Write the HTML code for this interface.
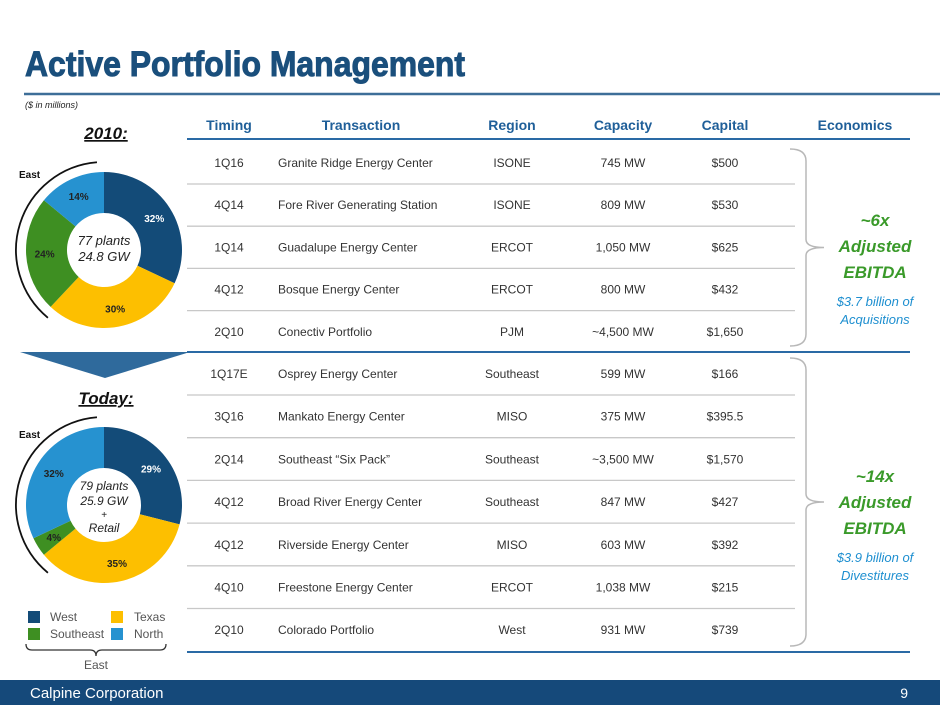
<!DOCTYPE html>
<html><head><meta charset="utf-8"><style>
html,body{margin:0;padding:0;background:#fff;}
svg{display:block;font-family:"Liberation Sans",sans-serif;}
</style></head><body>
<svg id="s" width="940" height="705" viewBox="0 0 940 705">
<text x="25" y="76" font-size="35" font-weight="bold" fill="#1a4f7c" stroke="#1a4f7c" stroke-width="1" textLength="440" lengthAdjust="spacingAndGlyphs">Active Portfolio Management</text>
<line x1="24" y1="94" x2="940" y2="94" stroke="#3d6e98" stroke-width="2.5"/>
<text x="25" y="108" font-size="9" font-style="italic" fill="#222">($ in millions)</text>
<text x="106" y="139" font-size="17" font-weight="bold" font-style="italic" fill="#111" text-anchor="middle" text-decoration="underline">2010:</text>
<text x="106" y="404" font-size="17" font-weight="bold" font-style="italic" fill="#111" text-anchor="middle" text-decoration="underline">Today:</text>
<polygon points="20,352 190,352 105,378" fill="#2f6a9c"/>
<g id="tbl"></g>
<g id="d1"></g><g id="d2"></g>
<rect x="28" y="611" width="12" height="12" fill="#134b78"/>
<text x="50" y="621" font-size="12" fill="#555">West</text>
<rect x="111" y="611" width="12" height="12" fill="#fdbf00"/>
<text x="134" y="621" font-size="12" fill="#555">Texas</text>
<rect x="28" y="628" width="12" height="12" fill="#3e8f22"/>
<text x="50" y="638" font-size="12" fill="#555">Southeast</text>
<rect x="111" y="628" width="12" height="12" fill="#2692d0"/>
<text x="134" y="638" font-size="12" fill="#555">North</text>
<path d="M26,644 Q26,650 32,650 L90,650 Q96,650 96,656 Q96,650 102,650 L160,650 Q166,650 166,644" fill="none" stroke="#333" stroke-width="1.3"/>
<text x="96" y="669" font-size="12" fill="#555" text-anchor="middle">East</text>
<rect x="0" y="680" width="940" height="25" fill="#15497a"/>
<text x="30" y="698" font-size="15" fill="#fff">Calpine Corporation</text>
<text x="908" y="698" font-size="14" fill="#fff" text-anchor="end">9</text>
</svg>
<script>
const regions=["West","Texas","Southeast","North"];
const colors=["#134b78","#fdbf00","#3e8f22","#2692d0"];
const share2010=[32,30,24,14];
const shareToday=[29,35,4,32];
const timing=["1Q16","4Q14","1Q14","4Q12","2Q10","1Q17E","3Q16","2Q14","4Q12","4Q12","4Q10","2Q10"];
const transaction=["Granite Ridge Energy Center","Fore River Generating Station","Guadalupe Energy Center","Bosque Energy Center","Conectiv Portfolio","Osprey Energy Center","Mankato Energy Center","Southeast \u201cSix Pack\u201d","Broad River Energy Center","Riverside Energy Center","Freestone Energy Center","Colorado Portfolio"];
const region=["ISONE","ISONE","ERCOT","ERCOT","PJM","Southeast","MISO","Southeast","Southeast","MISO","ERCOT","West"];
const capacity=["745 MW","809 MW","1,050 MW","800 MW","~4,500 MW","599 MW","375 MW","~3,500 MW","847 MW","603 MW","1,038 MW","931 MW"];
const capital=["$500","$530","$625","$432","$1,650","$166","$395.5","$1,570","$427","$392","$215","$739"];
const NS="http://www.w3.org/2000/svg";
function mk(p,tag,a){const e=document.createElementNS(NS,tag);for(const k in a)e.setAttribute(k,a[k]);p.appendChild(e);return e;}
function txt(p,x,y,s,a){const e=mk(p,"text",Object.assign({x:x,y:y},a));e.textContent=s;return e;}
const T=document.getElementById("tbl");
const hdr=[["Timing",229],["Transaction",361],["Region",512],["Capacity",623],["Capital",725],["Economics",855]];
hdr.forEach(h=>{const e=txt(T,h[1],130,h[0],{"font-size":14,"font-weight":"bold",fill:"#1f5f99","text-anchor":"middle"});

});
function hl(y,x2,c,w,n){const l=mk(T,"line",{x1:187,y1:y,x2:x2,y2:y,stroke:c,"stroke-width":w});

}
hl(139,910,"#2a6aa5",2,"header-rule");hl(352,910,"#2a6aa5",2,"section-rule");hl(652,910,"#2a6aa5",2,"bottom-rule");
function rowY(i){return i<5?163+i*42.2:374+(i-5)*42.7;}
timing.forEach((t,i)=>{const y=rowY(i)+4;const g=mk(T,"g",{});


const a={"font-size":12,fill:"#333"};
txt(g,229,y,t,Object.assign({"text-anchor":"middle"},a));
txt(g,278,y,transaction[i],a);
txt(g,512,y,region[i],Object.assign({"text-anchor":"middle"},a));
txt(g,623,y,capacity[i],Object.assign({"text-anchor":"middle"},a));
txt(g,725,y,capital[i],Object.assign({"text-anchor":"middle"},a));
if(i!==4&&i!==11)hl(rowY(i)+21,795,"#c8c8c8",1.3,"row-divider");});
function brace(y1,y2,n){const m=(y1+y2)/2;
const d="M790,"+y1+" Q806,"+y1+" 806,"+(y1+12)+" L806,"+(m-8)+" Q806,"+m+" 824,"+m+" Q806,"+m+" 806,"+(m+8)+" L806,"+(y2-12)+" Q806,"+y2+" 790,"+y2;
const p=mk(T,"path",{d:d,fill:"none",stroke:"#b8b8b8","stroke-width":1.5});

}
brace(149,346,"acquisitions-brace");brace(358,646,"divestitures-brace");
function econ(lines,n){const g=mk(T,"g",{});


lines.forEach(l=>txt(g,875,l[0],l[1],{"font-size":l[2],"font-weight":l[3]?"bold":"normal","font-style":"italic",fill:l[3]?"#3a9a2a":"#1e8fd0","text-anchor":"middle"}));}
econ([[226,"~6x",17,1],[252,"Adjusted",17,1],[278,"EBITDA",17,1],[306,"$3.7 billion of",13,0],[324,"Acquisitions",13,0]],"acquisitions-economics");
econ([[482,"~14x",17,1],[508,"Adjusted",17,1],[534,"EBITDA",17,1],[562,"$3.9 billion of",13,0],[580,"Divestitures",13,0]],"divestitures-economics");
function donut(id,cx,cy,vals,center,arcA){const G=document.getElementById(id);const R=78,r=37;
const tot=vals.reduce((a,b)=>a+b,0);let a0=-Math.PI/2;
vals.forEach((v,i)=>{const a1=a0+v/tot*2*Math.PI;const lg=(a1-a0)>Math.PI?1:0;
const P=(rad,a)=>[cx+rad*Math.cos(a),cy+rad*Math.sin(a)];
const [x1,y1]=P(R,a0),[x2,y2]=P(R,a1),[x3,y3]=P(r,a1),[x4,y4]=P(r,a0);
const s=mk(G,"path",{d:`M${x1},${y1} A${R},${R} 0 ${lg} 1 ${x2},${y2} L${x3},${y3} A${r},${r} 0 ${lg} 0 ${x4},${y4}Z`,fill:colors[i]});


const am=(a0+a1)/2;const [lx,ly]=P((R+r)/2+2,am);
const t=txt(G,lx,ly+4,v+"%",{"font-size":10,"font-weight":"bold",fill:i==0?"#fff":"#222","text-anchor":"middle"});


a0=a1;});
center.forEach(c=>{const t=txt(G,cx,cy+c[0],c[1],{"font-size":c[2],"font-style":"italic",fill:"#222","text-anchor":"middle"});

});
const RA=88,b0=-Math.PI/2-0.08,b1=Math.PI*0.72;
const arc=mk(G,"path",{d:`M${cx+RA*Math.cos(b0)},${cy+RA*Math.sin(b0)} A${RA},${RA} 0 0 0 ${cx+RA*Math.cos(b1)},${cy+RA*Math.sin(b1)}`,fill:"none",stroke:"#111","stroke-width":1.8});


const el=txt(G,arcA[0],arcA[1],"East",{"font-size":10,"font-weight":"bold",fill:"#111"});

}
donut("d1",104,250,share2010,[[-5,"77 plants",13],[11,"24.8 GW",13]],[19,178]);
donut("d2",104,505,shareToday,[[-15,"79 plants",12],[0,"25.9 GW",12],[13,"+",10],[27,"Retail",12]],[19,438]);
</script>
</body></html>
